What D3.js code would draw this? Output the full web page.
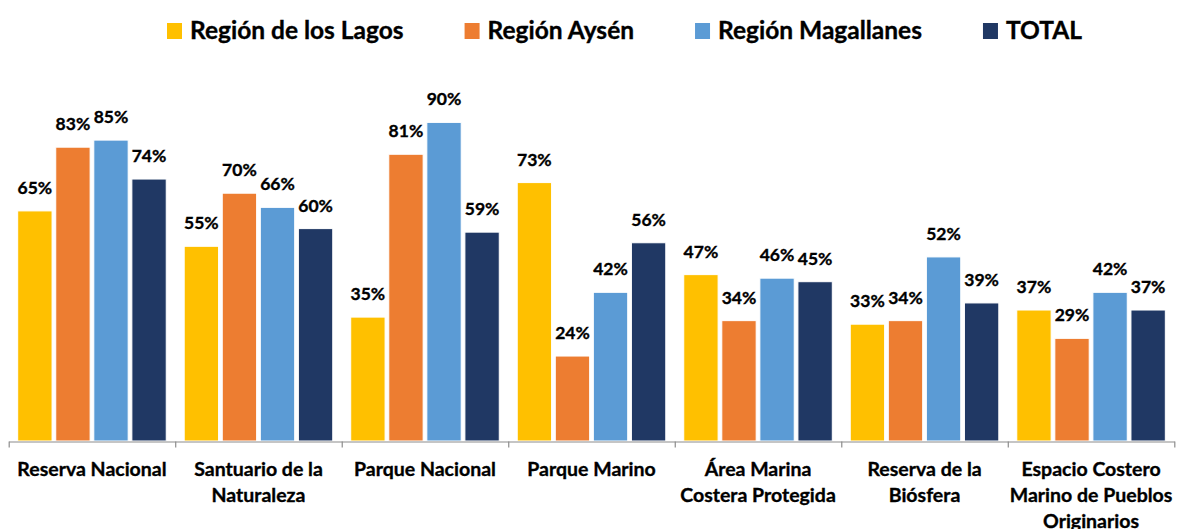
<!DOCTYPE html>
<html>
<head>
<meta charset="utf-8">
<script src="https://cdn.jsdelivr.net/npm/d3@7"></script>
<style>
  html, body { margin: 0; padding: 0; background: #fff; }
  svg { display: block; }
  text { font-family: Lato, "Open Sans", sans-serif; font-weight: bold; fill: #000; stroke: #000; stroke-width: 0.35px; }
</style>
</head>
<body>
<svg id="chart" width="1177" height="529"></svg>
<script>
// ---- data ----
const categories = [
  "Reserva Nacional",
  "Santuario de la\nNaturaleza",
  "Parque Nacional",
  "Parque Marino",
  "Área Marina\nCostera Protegida",
  "Reserva de la\nBiósfera",
  "Espacio Costero\nMarino de Pueblos\nOriginarios"
];
const seriesNames = ["Región de los Lagos", "Región Aysén", "Región Magallanes", "TOTAL"];
const seriesColors = ["#FFC000", "#ED7D31", "#5B9BD5", "#203864"];
const lagos      = [65, 55, 35, 73, 47, 33, 37];
const aysen      = [83, 70, 81, 24, 34, 34, 29];
const magallanes = [85, 66, 90, 42, 46, 52, 42];
const total      = [74, 60, 59, 56, 45, 39, 37];
const seriesValues = [lagos, aysen, magallanes, total];

// ---- layout ----
const svg = d3.select("#chart");
const left = 8.7, right = 1174.3, baseY = 441, topY = 87;

const x0 = d3.scaleBand().domain(d3.range(categories.length)).range([left, right]).paddingInner(0).paddingOuter(0);
const x1 = d3.scaleBand().domain(d3.range(seriesNames.length)).range([0, x0.bandwidth()])
  .paddingInner(0.097).paddingOuter(0.236);
const y = d3.scaleLinear().domain([0, 100]).range([baseY, topY]);

// bars
const groups = svg.append("g").selectAll("g")
  .data(categories.map((c, i) => ({ c, i })))
  .join("g")
  .attr("transform", d => `translate(${x0(d.i)},0)`);

groups.selectAll("rect")
  .data(d => seriesValues.map((vals, s) => ({ s, v: vals[d.i] })))
  .join("rect")
  .attr("x", d => x1(d.s))
  .attr("width", x1.bandwidth())
  .attr("y", d => y(d.v))
  .attr("height", d => baseY - y(d.v))
  .attr("fill", d => seriesColors[d.s])
  .attr("stroke", "#fff")
  .attr("stroke-width", 1);

groups.selectAll("text.val")
  .data(d => seriesValues.map((vals, s) => ({ s, v: vals[d.i] })))
  .join("text")
  .attr("class", "val")
  .attr("x", d => x1(d.s) + x1.bandwidth() / 2)
  .attr("y", d => y(d.v) - 17)
  .attr("text-anchor", "middle")
  .style("font-size", "17.5px")
  .text(d => d.v + "%");

// axis with boundary ticks
const xb = d3.scaleLinear().domain([0, categories.length]).range([left, right]);
const axis = svg.append("g")
  .attr("transform", `translate(0,${baseY + 0.5})`)
  .call(d3.axisBottom(xb).tickValues(d3.range(categories.length + 1)).tickSize(6).tickSizeOuter(0).tickFormat(""));
axis.selectAll("path, line").attr("stroke", "#8c8c8c").attr("stroke-width", 1.2);

// category labels
const lab = svg.append("g").selectAll("text")
  .data(categories.map((c, i) => ({ c, i })))
  .join("text")
  .attr("text-anchor", "middle")
  .style("font-size", "19.5px")
  .attr("transform", d => `translate(${x0(d.i) + x0.bandwidth() / 2},476)`);
lab.selectAll("tspan")
  .data(d => d.c.split("\n"))
  .join("tspan")
  .attr("x", 0)
  .attr("y", (d, k) => k * 25.8)
  .text(d => d);

// legend
const legend = svg.append("g");
let lx = 167;
seriesNames.forEach((name, s) => {
  const g = legend.append("g").attr("transform", `translate(${lx},0)`);
  g.append("rect").attr("x", 0).attr("y", 23).attr("width", 15).attr("height", 16).attr("fill", seriesColors[s]);
  const t = g.append("text").attr("x", 23).attr("y", 39).style("font-size", "24.5px").text(name);
  lx += 23 + t.node().getComputedTextLength() + 61;
});
</script>
</body>
</html>
